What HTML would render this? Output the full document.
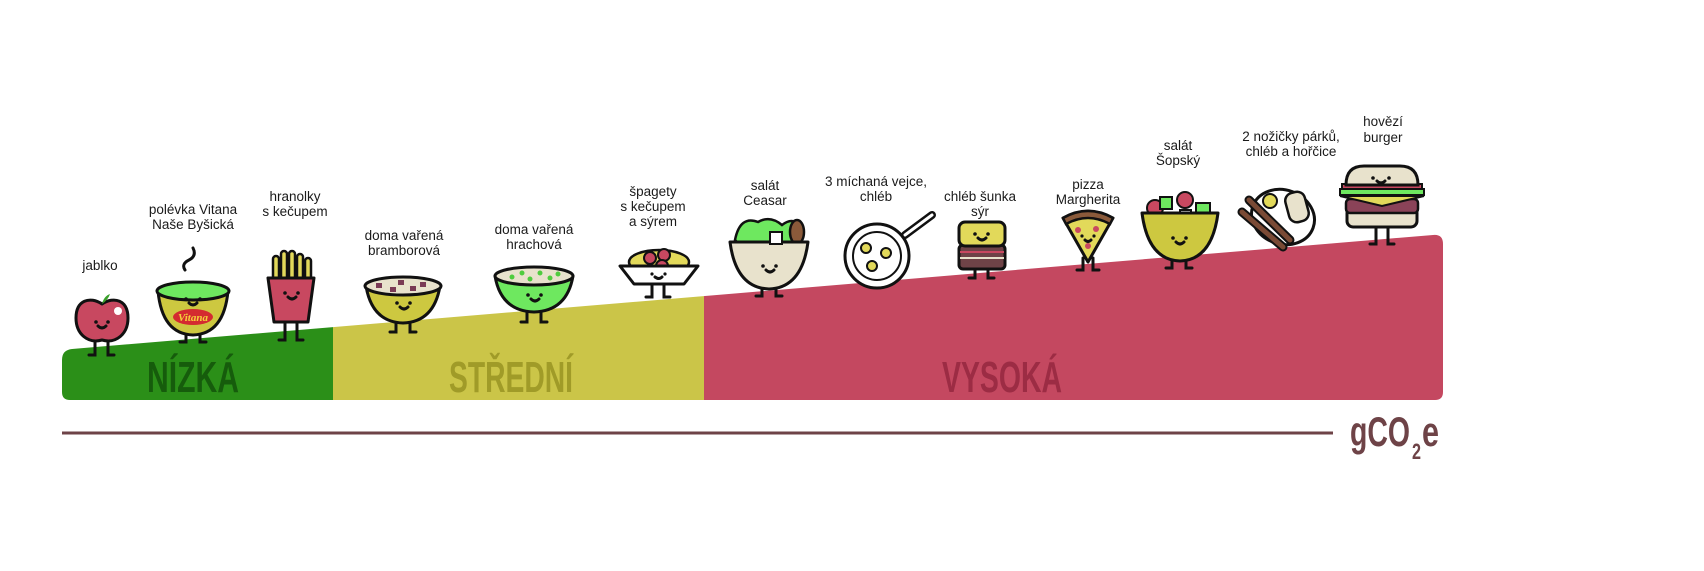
<!DOCTYPE html>
<html><head><meta charset="utf-8"><style>
html,body{margin:0;padding:0;background:#fff}
svg{display:block}
.l{font-family:"Liberation Sans",sans-serif;font-size:13.5px;fill:#1a1a1a;text-anchor:middle}
.big{font-family:"Liberation Sans Narrow","Liberation Sans",sans-serif;font-weight:bold;font-size:44px;text-anchor:middle}
.o{stroke:#111;stroke-width:3;stroke-linejoin:round;stroke-linecap:round}
.k{stroke:#111;stroke-width:3;fill:none;stroke-linecap:round}
</style></head><body>
<svg width="1704" height="571" viewBox="0 0 1704 571" xmlns="http://www.w3.org/2000/svg">
<defs>
<clipPath id="w"><path d="M62,360 Q62,350 72,349 L1433,235 Q1443,234 1443,244 L1443,392 Q1443,400 1435,400 L70,400 Q62,400 62,392 Z"/></clipPath>
</defs>
<g clip-path="url(#w)">
<rect x="0" y="200" width="333" height="220" fill="#2b8f18"/>
<rect x="333" y="200" width="371" height="220" fill="#cbc548"/>
<rect x="704" y="200" width="800" height="220" fill="#c44860"/>
</g>
<text class="big" x="193" y="392" fill="#165c0c" textLength="92" lengthAdjust="spacingAndGlyphs">NÍZKÁ</text>
<text class="big" x="511" y="392" fill="#a09b28" textLength="124" lengthAdjust="spacingAndGlyphs">STŘEDNÍ</text>
<text class="big" x="1002" y="392" fill="#9c2c44" textLength="120" lengthAdjust="spacingAndGlyphs">VYSOKÁ</text>
<line x1="62" y1="433" x2="1333" y2="433" stroke="#6e4347" stroke-width="3"/>
<text x="1350" y="446" font-family="Liberation Sans,sans-serif" font-weight="bold" font-size="42" fill="#6e4347" textLength="60" lengthAdjust="spacingAndGlyphs">gCO</text>
<text x="1412" y="459" font-family="Liberation Sans,sans-serif" font-weight="bold" font-size="22" fill="#6e4347" textLength="9" lengthAdjust="spacingAndGlyphs">2</text>
<text x="1422" y="446" font-family="Liberation Sans,sans-serif" font-weight="bold" font-size="42" fill="#6e4347" textLength="17" lengthAdjust="spacingAndGlyphs">e</text>

<!-- labels -->
<text class="l" x="100" y="270">jablko</text>
<text class="l" x="193" y="214">polévka Vitana</text><text class="l" x="193" y="229">Naše Byšická</text>
<text class="l" x="295" y="201">hranolky</text><text class="l" x="295" y="216">s kečupem</text>
<text class="l" x="404" y="240">doma vařená</text><text class="l" x="404" y="255">bramborová</text>
<text class="l" x="534" y="234">doma vařená</text><text class="l" x="534" y="249">hrachová</text>
<text class="l" x="653" y="196">špagety</text><text class="l" x="653" y="211">s kečupem</text><text class="l" x="653" y="226">a sýrem</text>
<text class="l" x="765" y="190">salát</text><text class="l" x="765" y="205">Ceasar</text>
<text class="l" x="876" y="186">3 míchaná vejce,</text><text class="l" x="876" y="201">chléb</text>
<text class="l" x="980" y="201">chléb šunka</text><text class="l" x="980" y="216">sýr</text>
<text class="l" x="1088" y="189">pizza</text><text class="l" x="1088" y="204">Margherita</text>
<text class="l" x="1178" y="150">salát</text><text class="l" x="1178" y="165">Šopský</text>
<text class="l" x="1291" y="141">2 nožičky párků,</text><text class="l" x="1291" y="156">chléb a hořčice</text>
<text class="l" x="1383" y="126">hovězí</text><text class="l" x="1383" y="142">burger</text>

<!-- apple -->
<g>
<path class="k" d="M95,340 v15 h-6 M108,340 v15 h6"/>
<path class="o" fill="#c84860" d="M102,304 C90,296 76,300 76,318 C76,334 88,344 102,340 C116,344 128,334 128,318 C128,300 114,296 102,304Z"/>
<path d="M102,304 Q104,296 110,294 Q108,300 102,304Z" fill="#3aa02b"/>
<circle cx="118" cy="311" r="4" fill="#fff"/>
<circle cx="96" cy="322" r="1.8" fill="#111"/><circle cx="108" cy="322" r="1.8" fill="#111"/>
<path class="k" stroke-width="2" d="M98,326 q4,4 8,0"/>
</g>
<!-- vitana bowl -->
<g>
<path class="k" d="M185,270 q-4,-6 4,-10 q8,-4 4,-12"/>
<path class="k" d="M186,330 v12 h-6 M200,330 v12 h6"/>
<path class="o" fill="#cdc840" d="M158,291 Q162,334 193,335 Q224,334 228,291 Z"/>
<ellipse class="o" cx="193" cy="291" rx="36" ry="9" fill="#6ee85f"/>
<ellipse cx="193" cy="317" rx="20" ry="8" fill="#d42b30"/>
<text x="193" y="321" font-family="Liberation Serif,serif" font-style="italic" font-weight="bold" font-size="11" fill="#f5d23a" text-anchor="middle">Vitana</text>
<circle cx="186" cy="299" r="1.8" fill="#111"/><circle cx="200" cy="299" r="1.8" fill="#111"/>
<path class="k" stroke-width="2" d="M189,303 q4,4 8,0"/>
</g>
<!-- fries -->
<g>
<path class="k" d="M285,320 v20 h-6 M297,320 v20 h6"/>
<g fill="#e2d95a" stroke="#111" stroke-width="2.5">
<rect x="273" y="256" width="6" height="30" rx="3"/><rect x="281" y="251" width="6" height="35" rx="3"/>
<rect x="289" y="251" width="6" height="35" rx="3"/><rect x="297" y="254" width="6" height="32" rx="3"/><rect x="305" y="258" width="6" height="28" rx="3"/>
</g>
<path class="o" fill="#c84860" d="M268,278 L314,278 L308,322 L274,322 Z"/>
<circle cx="285" cy="293" r="1.8" fill="#111"/><circle cx="298" cy="293" r="1.8" fill="#111"/>
<path class="k" stroke-width="2" d="M288,297 q4,4 8,0"/>
</g>
<!-- bramborova -->
<g>
<path class="k" d="M396,320 v12 h-6 M410,320 v12 h6"/>
<path class="o" fill="#cdc840" d="M366,286 Q372,322 403,323 Q434,322 440,286 Z"/>
<ellipse class="o" cx="403" cy="286" rx="38" ry="9" fill="#e8e2cc"/>
<g fill="#7a3a55"><rect x="376" y="283" width="6" height="5"/><rect x="390" y="287" width="6" height="5"/><rect x="398" y="280" width="6" height="5"/><rect x="410" y="286" width="6" height="5"/><rect x="420" y="282" width="6" height="5"/></g>
<circle cx="397" cy="303" r="1.8" fill="#111"/><circle cx="410" cy="303" r="1.8" fill="#111"/>
<path class="k" stroke-width="2" d="M400,307 q4,4 8,0"/>
</g>
<!-- hrachova -->
<g>
<path class="k" d="M527,308 v14 h-6 M541,308 v14 h6"/>
<path class="o" fill="#6ee85f" d="M495,276 Q501,311 534,312 Q567,311 573,276 Z"/>
<ellipse class="o" cx="534" cy="276" rx="39" ry="9" fill="#e8e2cc"/>
<g fill="#4fcc3e"><circle cx="512" cy="277" r="2.5"/><circle cx="522" cy="273" r="2.5"/><circle cx="530" cy="279" r="2.5"/><circle cx="540" cy="273" r="2.5"/><circle cx="550" cy="278" r="2.5"/><circle cx="558" cy="274" r="2.5"/></g>
<circle cx="528" cy="295" r="1.8" fill="#111"/><circle cx="541" cy="295" r="1.8" fill="#111"/>
<path class="k" stroke-width="2" d="M531,299 q4,4 8,0"/>
</g>
<!-- spaghetti -->
<g>
<path class="k" d="M652,285 v12 h-6 M664,285 v12 h6"/>
<ellipse cx="659" cy="262" rx="30" ry="12" fill="#e2d95a" stroke="#111" stroke-width="2.5"/>
<circle cx="650" cy="258" r="6" fill="#c84860" stroke="#111" stroke-width="2"/><circle cx="664" cy="255" r="6" fill="#c84860" stroke="#111" stroke-width="2"/><circle cx="662" cy="266" r="6" fill="#c84860" stroke="#111" stroke-width="2"/>
<path class="o" fill="#fff" d="M620,266 L698,266 L684,284 L634,284 Z"/>
<circle cx="652" cy="274" r="1.6" fill="#111"/><circle cx="665" cy="274" r="1.6" fill="#111"/>
<path class="k" stroke-width="2" d="M655,277 q4,3 7,0"/>
</g>
<!-- ceasar -->
<g>
<path class="k" d="M762,286 v10 h-6 M776,286 v10 h6"/>
<path d="M735,240 Q740,215 758,222 Q770,215 782,225 Q795,215 802,230 L800,245 L740,245Z" fill="#6ee85f" stroke="#111" stroke-width="2.5"/>
<ellipse cx="797" cy="232" rx="7" ry="12" fill="#8a5a3a" stroke="#111" stroke-width="2.5"/>
<path class="o" fill="#e8e2cc" d="M730,242 Q736,288 769,289 Q802,288 808,242 Z"/>
<rect x="770" y="232" width="12" height="12" fill="#fff" stroke="#111" stroke-width="2"/>
<circle cx="763" cy="266" r="1.8" fill="#111"/><circle cx="776" cy="266" r="1.8" fill="#111"/>
<path class="k" stroke-width="2" d="M766,270 q4,4 8,0"/>
</g>
<!-- eggs pan -->
<g>
<line x1="905" y1="235" x2="932" y2="215" stroke="#111" stroke-width="8" stroke-linecap="round"/>
<line x1="905" y1="235" x2="932" y2="215" stroke="#fff" stroke-width="3" stroke-linecap="round"/>
<circle cx="877" cy="256" r="32" fill="#fff" stroke="#111" stroke-width="3"/>
<circle cx="877" cy="256" r="24" fill="#fff" stroke="#111" stroke-width="2"/>
<circle cx="866" cy="248" r="5" fill="#e2d95a" stroke="#111" stroke-width="2"/><circle cx="886" cy="253" r="5" fill="#e2d95a" stroke="#111" stroke-width="2"/><circle cx="872" cy="266" r="5" fill="#e2d95a" stroke="#111" stroke-width="2"/>
</g>
<!-- sandwich -->
<g>
<path class="k" d="M975,268 v10 h-6 M988,268 v10 h6"/>
<rect x="959" y="245" width="46" height="24" rx="4" fill="#6e4347" stroke="#111" stroke-width="3"/>
<rect x="959" y="222" width="46" height="24" rx="6" fill="#e2d95a" stroke="#111" stroke-width="3"/>
<line x1="960" y1="252" x2="1004" y2="252" stroke="#c84860" stroke-width="2"/><line x1="960" y1="258" x2="1004" y2="258" stroke="#e8e2cc" stroke-width="2"/>
<circle cx="975" cy="234" r="1.8" fill="#111"/><circle cx="988" cy="234" r="1.8" fill="#111"/>
<path class="k" stroke-width="2" d="M978,238 q4,4 8,0"/>
</g>
<!-- pizza -->
<g>
<path class="k" d="M1083,258 v12 h-6 M1093,258 v12 h6"/>
<path class="o" fill="#e2d95a" d="M1063,218 Q1088,204 1113,218 L1088,262 Z"/>
<path d="M1063,218 Q1088,204 1113,218 L1110,224 Q1088,212 1066,224Z" fill="#8a5a3a" stroke="#111" stroke-width="2.5"/>
<g fill="#c84860"><circle cx="1078" cy="230" r="3"/><circle cx="1096" cy="229" r="3"/><circle cx="1088" cy="246" r="3"/></g>
<circle cx="1082" cy="236" r="1.6" fill="#111"/><circle cx="1094" cy="236" r="1.6" fill="#111"/>
<path class="k" stroke-width="2" d="M1085,240 q3,3 6,0"/>
</g>
<!-- sopsky -->
<g>
<path class="k" d="M1172,258 v10 h-6 M1186,258 v10 h6"/>
<circle cx="1155" cy="208" r="8" fill="#c84860" stroke="#111" stroke-width="2"/><rect x="1160" y="197" width="12" height="12" fill="#6ee85f" stroke="#111" stroke-width="2"/>
<circle cx="1185" cy="200" r="8" fill="#c84860" stroke="#111" stroke-width="2"/><rect x="1196" y="203" width="14" height="12" fill="#6ee85f" stroke="#111" stroke-width="2"/>
<rect x="1180" y="210" width="11" height="11" fill="#fff" stroke="#111" stroke-width="2"/>
<path class="o" fill="#cdc840" d="M1142,213 Q1148,260 1180,261 Q1212,260 1218,213 Z"/>
<circle cx="1173" cy="238" r="1.8" fill="#111"/><circle cx="1186" cy="238" r="1.8" fill="#111"/>
<path class="k" stroke-width="2" d="M1176,242 q4,4 8,0"/>
</g>
<!-- sausages -->
<g>
<ellipse cx="1283" cy="217" rx="32" ry="27" fill="#fff" stroke="#111" stroke-width="3" transform="rotate(20 1283 217)"/>
<circle cx="1270" cy="201" r="7" fill="#e2d95a" stroke="#111" stroke-width="2"/>
<rect x="1287" y="192" width="20" height="30" rx="8" fill="#e8e2cc" stroke="#111" stroke-width="2.5" transform="rotate(-15 1297 207)"/>
<line x1="1249" y1="200" x2="1290" y2="240" stroke="#111" stroke-width="9" stroke-linecap="round"/><line x1="1249" y1="200" x2="1290" y2="240" stroke="#7a4a35" stroke-width="5" stroke-linecap="round"/>
<line x1="1242" y1="212" x2="1283" y2="247" stroke="#111" stroke-width="9" stroke-linecap="round"/><line x1="1242" y1="212" x2="1283" y2="247" stroke="#7a4a35" stroke-width="5" stroke-linecap="round"/>
</g>
<!-- burger -->
<g>
<path class="k" d="M1376,228 v16 h-6 M1388,228 v16 h6"/>
<rect x="1347" y="207" width="70" height="20" rx="6" fill="#e8e2cc" stroke="#111" stroke-width="3"/>
<rect x="1346" y="199" width="72" height="14" rx="4" fill="#8a4358" stroke="#111" stroke-width="2.5"/>
<path d="M1340,196 L1424,196 L1382,206Z" fill="#e2d95a" stroke="#111" stroke-width="2"/>
<rect x="1340" y="189" width="84" height="6" fill="#6ee85f" stroke="#111" stroke-width="2"/>
<rect x="1342" y="184" width="80" height="5" fill="#c84860" stroke="#111" stroke-width="2"/>
<path d="M1346,185 Q1346,166 1364,166 L1400,166 Q1418,166 1418,185Z" fill="#e8e2cc" stroke="#111" stroke-width="3"/>
<circle cx="1373" cy="178" r="1.8" fill="#111"/><circle cx="1389" cy="178" r="1.8" fill="#111"/>
<path class="k" stroke-width="2" d="M1377,181 q4,4 8,0"/>
</g>
</svg>
</body></html>
